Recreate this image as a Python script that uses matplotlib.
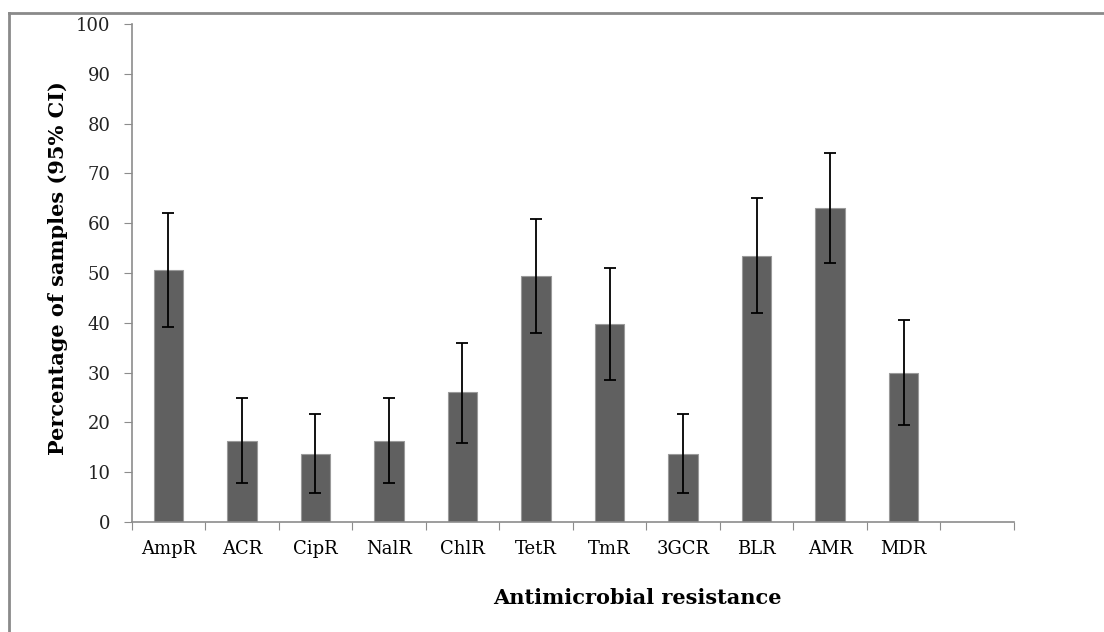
import matplotlib
matplotlib.use('Agg')
import matplotlib.pyplot as plt
from matplotlib.lines import Line2D
import numpy as np

# data
labels = ['AmpR', 'ACR', 'CipR', 'NalR', 'ChlR', 'TetR', 'TmR', '3GCR', 'BLR', 'AMR', 'MDR']
pct = [50.6, 16.3, 13.7, 16.3, 26.1, 49.3, 39.8, 13.7, 53.5, 63.0, 30.0]
ci_low = [39.1, 7.9, 5.9, 7.9, 15.9, 38.0, 28.6, 5.9, 41.9, 52.0, 19.5]
ci_high = [62.0, 24.9, 21.6, 24.9, 36.0, 60.8, 51.0, 21.6, 65.0, 74.0, 40.6]

plt.rcParams['font.family'] = ['DejaVu Serif']
axis_grey = '#8c8c8c'

fig = plt.figure(figsize=(11.04, 6.32), dpi=100)
ax = fig.add_axes([131.5/1104, 1-522/632, (1014-131.5)/1104, (522-24)/632])

x = np.arange(len(labels))
err = [np.array(pct) - np.array(ci_low), np.array(ci_high) - np.array(pct)]
ax.bar(x, pct, width=0.4, color='#606060', edgecolor='#9a9a9a', linewidth=0.8, zorder=2)
ax.errorbar(x, pct, yerr=err, fmt='none', ecolor='black', elinewidth=1.3,
            capsize=4, capthick=1.3, zorder=3)

ax.set_xlim(-0.5, 11.5)
ax.set_ylim(0, 100)
ax.set_yticks(np.arange(0, 101, 10))
ax.set_xticks(np.arange(-0.5, 12, 1))
ax.set_xticklabels([])
ax.set_xticks(x, minor=True)
ax.set_xticklabels(labels, minor=True, fontsize=13)
ax.tick_params(axis='x', which='major', length=6, color=axis_grey, direction='out')
ax.tick_params(axis='x', which='minor', length=0, pad=13)
ax.tick_params(axis='y', length=6, color=axis_grey, direction='out', labelsize=13,
               labelcolor='#222222', pad=9)

for s in ['top', 'right']:
    ax.spines[s].set_visible(False)
for s in ['left', 'bottom']:
    ax.spines[s].set_color(axis_grey)
    ax.spines[s].set_linewidth(1.2)

fig.text(58/1104, 1-268/632, 'Percentage of samples (95% CI)', rotation=90,
         ha='center', va='center', fontsize=15, fontweight='bold')
fig.text(637/1104, 1-598/632, 'Antimicrobial resistance',
         ha='center', va='center', fontsize=15, fontweight='bold')

# outer frame (only top and left visible in the crop)
fig.add_artist(Line2D([9/1104, 1.0], [1-13/632, 1-13/632], transform=fig.transFigure,
                      color='#8a8a8a', linewidth=2))
fig.add_artist(Line2D([9/1104, 9/1104], [0, 1-13/632], transform=fig.transFigure,
                      color='#8a8a8a', linewidth=2))

fig.savefig('out.png', dpi=100)
